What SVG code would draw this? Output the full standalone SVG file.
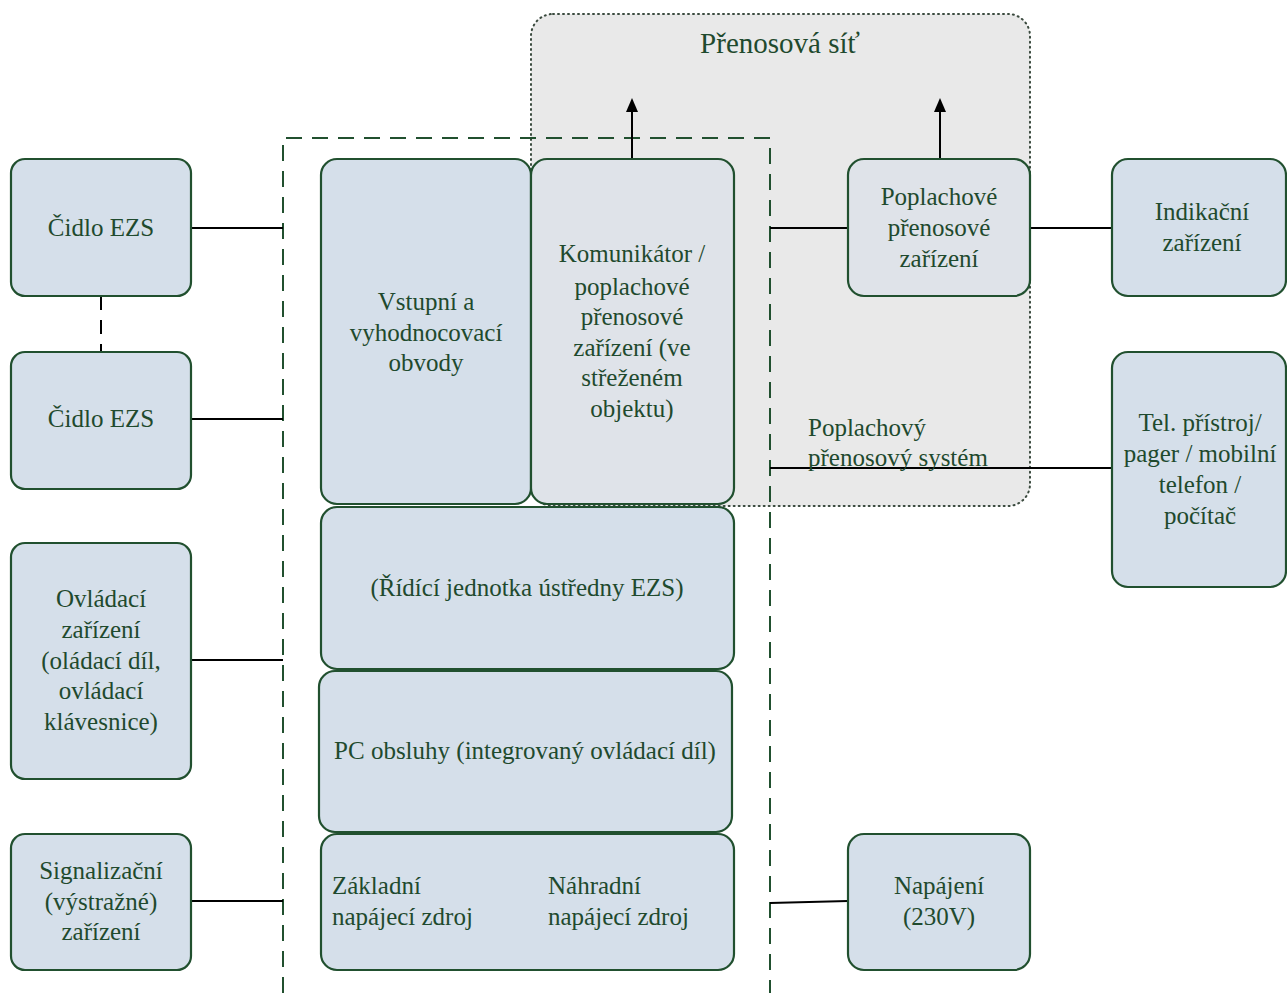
<svg xmlns="http://www.w3.org/2000/svg" width="1287" height="993" viewBox="0 0 1287 993" font-family="'Liberation Serif', serif">
<style>
.n{fill:#d5dfea;stroke:#21502f;stroke-width:2.2}
.g{fill:#dfe3e9}
.t{font-family:'Liberation Serif',serif;font-size:25px;fill:#1f4a2e}
.c{text-anchor:middle}
.ln{stroke:#000;stroke-width:2;fill:none}
</style>
<defs>
<marker id="ah" markerWidth="14" markerHeight="12" refX="2" refY="6" orient="auto" markerUnits="userSpaceOnUse" viewBox="0 0 14 12">
<path d="M0,0 L14,6 L0,12 Z" fill="#000"/>
</marker>
</defs>
<rect width="1287" height="993" fill="#fff"/>
<g id="prenosova-sit">
<rect x="531" y="14" width="499" height="492" rx="22" fill="#e9e9e9" stroke="#3a4a3e" stroke-width="2" stroke-dasharray="1 4" stroke-linecap="round"/>
<text class="t c" x="780" y="53" style="font-size:29px">Přenosová síť</text>
</g>
<g id="ustredna-hranice">
<path d="M283,993 V138 H770 V993" fill="none" stroke="#21502f" stroke-width="2" stroke-dasharray="16 10"/>
</g>
<g id="connectors">
<line class="ln" x1="191" y1="228" x2="283" y2="228"/>
<line class="ln" x1="191" y1="419" x2="283" y2="419"/>
<line class="ln" x1="191" y1="660" x2="283" y2="660"/>
<line class="ln" x1="191" y1="901" x2="283" y2="901"/>
<line class="ln" x1="101" y1="296" x2="101" y2="352" stroke-dasharray="14 10"/>
<line class="ln" x1="770" y1="228" x2="848" y2="228"/>
<line class="ln" x1="1030" y1="228" x2="1112" y2="228"/>
<line class="ln" x1="770" y1="468" x2="1112" y2="468"/>
<line class="ln" x1="770" y1="903" x2="848" y2="901"/>
<line class="ln" x1="632" y1="159" x2="632" y2="110" stroke-width="2.5" marker-end="url(#ah)"/>
<line class="ln" x1="940" y1="159" x2="940" y2="110" stroke-width="2.5" marker-end="url(#ah)"/>
</g>
<g id="cidlo1">
<rect class="n" x="11" y="159" width="180" height="137" rx="14"/>
<text class="t c" x="101" y="236">Čidlo EZS</text>
</g>
<g id="cidlo2">
<rect class="n" x="11" y="352" width="180" height="137" rx="14"/>
<text class="t c" x="101" y="427">Čidlo EZS</text>
</g>
<g id="ovladaci">
<rect class="n" x="11" y="543" width="180" height="236" rx="14"/>
<text class="t c" x="101" y="607">Ovládací</text>
<text class="t c" x="101" y="638">zařízení</text>
<text class="t c" x="101" y="669">(oládací díl,</text>
<text class="t c" x="101" y="699">ovládací</text>
<text class="t c" x="101" y="730">klávesnice)</text>
</g>
<g id="signalizacni">
<rect class="n" x="11" y="834" width="180" height="136" rx="14"/>
<text class="t c" x="101" y="879">Signalizační</text>
<text class="t c" x="101" y="910">(výstražné)</text>
<text class="t c" x="101" y="940">zařízení</text>
</g>
<g id="vstupni">
<rect class="n" x="321" y="159" width="210" height="345" rx="16"/>
<text class="t c" x="426" y="310">Vstupní a</text>
<text class="t c" x="426" y="341">vyhodnocovací</text>
<text class="t c" x="426" y="371">obvody</text>
</g>
<g id="komunikator">
<rect class="n g" x="531" y="159" width="203" height="345" rx="16"/>
<text class="t c" x="632" y="262">Komunikátor /</text>
<text class="t c" x="632" y="295">poplachové</text>
<text class="t c" x="632" y="325">přenosové</text>
<text class="t c" x="632" y="356">zařízení (ve</text>
<text class="t c" x="632" y="386">střeženém</text>
<text class="t c" x="632" y="417">objektu)</text>
</g>
<g id="ridici">
<rect class="n" x="321" y="507" width="413" height="162" rx="16"/>
<text class="t c" x="527" y="596">(Řídící jednotka ústředny EZS)</text>
</g>
<g id="pc">
<rect class="n" x="319" y="671" width="413" height="161" rx="16"/>
<text class="t c" x="525" y="759">PC obsluhy (integrovaný ovládací díl)</text>
</g>
<g id="napajeci-zdroje">
<rect class="n" x="321" y="834" width="413" height="136" rx="16"/>
<text class="t" x="332" y="894">Základní</text>
<text class="t" x="332" y="925">napájecí zdroj</text>
<text class="t" x="548" y="894">Náhradní</text>
<text class="t" x="548" y="925">napájecí zdroj</text>
</g>
<g id="poplachove">
<rect class="n g" x="848" y="159" width="182" height="137" rx="16"/>
<text class="t c" x="939" y="205">Poplachové</text>
<text class="t c" x="939" y="236">přenosové</text>
<text class="t c" x="939" y="267">zařízení</text>
</g>
<g id="indikacni">
<rect class="n" x="1112" y="159" width="174" height="137" rx="16"/>
<text class="t c" x="1202" y="220">Indikační</text>
<text class="t c" x="1202" y="251">zařízení</text>
</g>
<g id="tel">
<rect class="n" x="1112" y="352" width="174" height="235" rx="16"/>
<text class="t c" x="1200" y="431">Tel. přístroj/</text>
<text class="t c" x="1200" y="462">pager / mobilní</text>
<text class="t c" x="1200" y="493">telefon /</text>
<text class="t c" x="1200" y="524">počítač</text>
</g>
<g id="napajeni">
<rect class="n" x="848" y="834" width="182" height="136" rx="16"/>
<text class="t c" x="939" y="894">Napájení</text>
<text class="t c" x="939" y="925">(230V)</text>
</g>
<g id="pps-label">
<text class="t" x="808" y="436">Poplachový</text>
<text class="t" x="808" y="466">přenosový systém</text>
</g>
</svg>
